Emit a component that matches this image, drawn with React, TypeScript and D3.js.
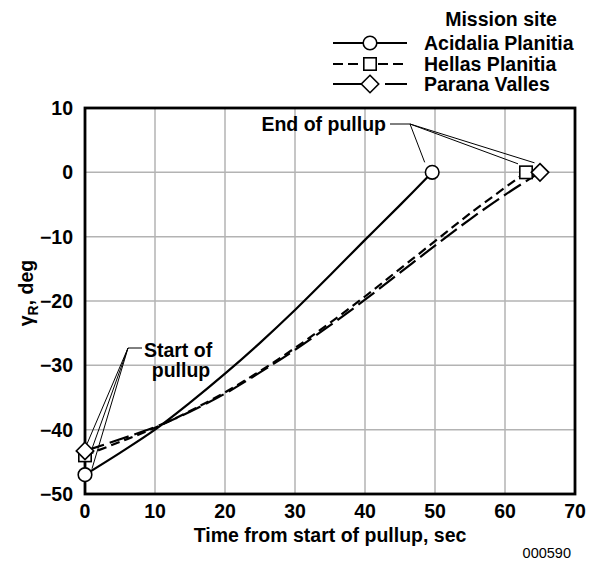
import React from "react";
import * as d3 from "d3";

const TIME_TICKS = [0, 10, 20, 30, 40, 50, 60, 70];
const GAMMA_TICKS = [-50, -40, -30, -20, -10, 0, 10];

const ACIDALIA_T = [0, 5, 10, 15, 20, 25, 30, 35, 40, 45, 49.6];
const ACIDALIA_G = [-47, -43.6, -40, -35.8, -31.3, -26.5, -21.4, -16, -10.5, -5.1, 0];

const HELLAS_T = [0, 5, 10, 15, 20, 25, 30, 35, 40, 45, 50, 55, 63];
const HELLAS_G = [-44, -41.9, -39.7, -37.1, -34.2, -30.9, -27.3, -23.4, -19.3, -15, -10.7, -6.4, 0];

const PARANA_T = [0, 5, 10, 15, 20, 25, 30, 35, 40, 45, 50, 55, 60, 65];
const PARANA_G = [-43.3, -41.5, -39.6, -37.2, -34.4, -31.1, -27.6, -23.8, -19.8, -15.6, -11.4, -7.3, -3.5, 0];

const SITES = ["Acidalia Planitia", "Hellas Planitia", "Parana Valles"];

const W = 589;
const H = 561;
const FONT = "'Liberation Sans', Arial, Helvetica, sans-serif";

const x = d3.scaleLinear().domain([0, 70]).range([85, 575]);
const y = d3.scaleLinear().domain([-50, 10]).range([494, 108]);

type Series = {
  name: string;
  t: number[];
  g: number[];
  dash: string;
  legendDash: string;
  marker: "circle" | "square" | "diamond";
};

const SERIES: Series[] = [
  { name: SITES[0], t: ACIDALIA_T, g: ACIDALIA_G, dash: "none", legendDash: "none", marker: "circle" },
  { name: SITES[1], t: HELLAS_T, g: HELLAS_G, dash: "9,5", legendDash: "10,5", marker: "square" },
  { name: SITES[2], t: PARANA_T, g: PARANA_G, dash: "20,6", legendDash: "29,23,22,100", marker: "diamond" },
];

function Marker({ kind, cx, cy }: { kind: string; cx: number; cy: number }) {
  const st = { fill: "#fff", stroke: "#000", strokeWidth: 1.6 };
  if (kind === "circle") return <circle cx={cx} cy={cy} r={6.8} {...st} />;
  if (kind === "square") return <rect x={cx - 6.2} y={cy - 6.2} width={12.4} height={12.4} {...st} />;
  const r = 8.7;
  return <path d={`M${cx},${cy - r}L${cx + r},${cy}L${cx},${cy + r}L${cx - r},${cy}Z`} {...st} />;
}

export default function App() {
  const line = d3
    .line<[number, number]>()
    .x((d) => x(d[0]))
    .y((d) => y(d[1]))
    .curve(d3.curveCatmullRom.alpha(0.5));

  const ends = SERIES.map((s) => ({
    start: [x(s.t[0]), y(s.g[0])],
    end: [x(s.t[s.t.length - 1]), y(s.g[s.g.length - 1])],
  }));

  const gridX = TIME_TICKS.slice(1, -1);
  const gridY = GAMMA_TICKS.slice(1, -1);

  const endHub = [410, 124];
  const startHub = [128, 348];

  return (
    <svg width={W} height={H} style={{ position: "absolute", left: 0, top: 0, background: "#fff" }} fontFamily={FONT}>
      <rect x={0} y={0} width={W} height={H} fill="#fff" />
      {gridX.map((t) => (
        <line key={"gx" + t} x1={x(t)} x2={x(t)} y1={y(10)} y2={y(-50)} stroke="#b3b3b3" strokeWidth={1.5} />
      ))}
      {gridY.map((g) => (
        <line key={"gy" + g} x1={x(0)} x2={x(70)} y1={y(g)} y2={y(g)} stroke="#b3b3b3" strokeWidth={1.5} />
      ))}
      <rect x={x(0)} y={y(10)} width={x(70) - x(0)} height={y(-50) - y(10)} fill="none" stroke="#000" strokeWidth={2.8} />

      {TIME_TICKS.map((t) => (
        <text key={"tx" + t} x={x(t)} y={518} textAnchor="middle" fontSize={19.5} fontWeight="bold">
          {t}
        </text>
      ))}
      {GAMMA_TICKS.map((g) => (
        <text key={"ty" + g} x={73} y={y(g) + 7} textAnchor="end" fontSize={19.5} fontWeight="bold">
          {g < 0 ? "\u2212" + Math.abs(g) : g}
        </text>
      ))}

      <text x={x(35)} y={542} textAnchor="middle" fontSize={19.5} fontWeight="bold">
        Time from start of pullup, sec
      </text>
      <text transform={`translate(33,${y(-20) - 8}) rotate(-90)`} textAnchor="middle" fontSize={19.5} fontWeight="bold">
        γ<tspan fontSize={14} dy={5}>R</tspan>
        <tspan dy={-5}>, deg</tspan>
      </text>
      <text x={571} y={558} textAnchor="end" fontSize={14.5}>
        000590
      </text>

      {SERIES.map((s) => (
        <path
          key={s.name}
          d={line(s.t.map((t, i) => [t, s.g[i]] as [number, number])) || ""}
          fill="none"
          stroke="#000"
          strokeWidth={2.2}
          strokeDasharray={s.dash}
        />
      ))}

      <g stroke="#000" strokeWidth={1} fill="none">
        <line x1={390} y1={endHub[1]} x2={endHub[0]} y2={endHub[1]} />
        <line x1={endHub[0]} y1={endHub[1]} x2={ends[0].end[0] - 7.5} y2={ends[0].end[1] - 10} />
        <line x1={endHub[0]} y1={endHub[1]} x2={ends[1].end[0] - 8} y2={ends[1].end[1] - 8.5} />
        <line x1={endHub[0]} y1={endHub[1]} x2={ends[2].end[0] - 5.5} y2={ends[2].end[1] - 9.5} />
        <line x1={142} y1={startHub[1]} x2={startHub[0]} y2={startHub[1]} />
        <line x1={startHub[0]} y1={startHub[1]} x2={ends[2].start[0] + 2} y2={ends[2].start[1] - 7} />
        <line x1={startHub[0]} y1={startHub[1]} x2={ends[1].start[0] + 6} y2={ends[1].start[1] - 4} />
        <line x1={startHub[0]} y1={startHub[1]} x2={ends[0].start[0] + 7} y2={ends[0].start[1] - 6} />
      </g>
      <text x={386} y={131} textAnchor="end" fontSize={19.5} fontWeight="bold">
        End of pullup
      </text>
      <text x={178} y={357} textAnchor="middle" fontSize={19.5} fontWeight="bold">
        Start of
      </text>
      <text x={181} y={377} textAnchor="middle" fontSize={19.5} fontWeight="bold">
        pullup
      </text>

      {SERIES.map((s, i) => (
        <g key={"m" + s.name}>
          <Marker kind={s.marker} cx={ends[i].start[0]} cy={ends[i].start[1]} />
          <Marker kind={s.marker} cx={ends[i].end[0]} cy={ends[i].end[1]} />
        </g>
      ))}

      <text x={501} y={26} textAnchor="middle" fontSize={19.5} fontWeight="bold">
        Mission site
      </text>
      {SERIES.map((s, i) => {
        const ly = [43, 64, 84][i];
        return (
          <g key={"lg" + s.name}>
            <line x1={333} x2={407} y1={ly} y2={ly} stroke="#000" strokeWidth={2.2} strokeDasharray={s.legendDash} />
            <Marker kind={s.marker} cx={370} cy={ly} />
            <text x={424} y={ly + 7} fontSize={19.5} fontWeight="bold">
              {s.name}
            </text>
          </g>
        );
      })}
    </svg>
  );
}
